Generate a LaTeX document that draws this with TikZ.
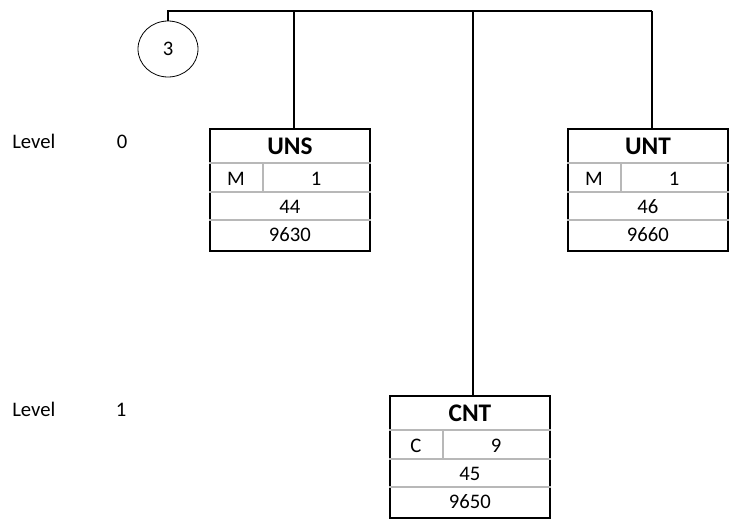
\documentclass[tikz,border=0pt]{standalone}
\usepackage{fontspec}
\setmainfont{Carlito}
\usetikzlibrary{calc,shapes.geometric}
\tikzset{
  outerbox/.style={draw=black, line width=1.4pt, minimum width=120pt, minimum height=91.5pt, inner sep=0pt, anchor=north west},
  innerline/.style={draw=black!28, line width=0.8pt},
  conn/.style={draw=black, line width=2pt},
  celltext/.style={inner sep=0pt, font=\fontsize{15.5}{18}\selectfont},
  titletext/.style={inner sep=0pt, font=\fontsize{19}{22}\selectfont\bfseries},
  leveltext/.style={inner sep=0pt, font=\fontsize{15.5}{18}\selectfont},
  circnode/.style={draw=black, line width=0.6pt, ellipse, minimum width=45pt, minimum height=42pt, inner sep=0pt, font=\fontsize{15.5}{18}\selectfont}
}
\newcommand{\segm}[8]{%
  \node[outerbox] (#1) at (#2,#3) {};
  \draw[innerline] ($(#1.north west)+(0,35)$) -- ($(#1.north east)+(0,35)$);
  \draw[innerline] ($(#1.north west)+(0,64)$) -- ($(#1.north east)+(0,64)$);
  \draw[innerline] ($(#1.north west)+(0,92)$) -- ($(#1.north east)+(0,92)$);
  \draw[innerline] ($(#1.north west)+(54,35)$) -- ($(#1.north west)+(54,64)$);
  \node[titletext] (#1-t) at ($(#1.north)+(0,18.5)$) {#4};
  \node[celltext] (#1-s) at ($(#1.north west)+(27,51)$) {#5};
  \node[celltext] (#1-r) at ($(#1.north west)+(107,51)$) {#6};
  \node[celltext] (#1-p) at ($(#1.north)+(0,79)$) {#7};
  \node[celltext] (#1-n) at ($(#1.north)+(0,106.5)$) {#8};
}
\begin{document}
\begin{tikzpicture}[x=0.75pt,y=-0.75pt]
\useasboundingbox (0,0) rectangle (731,518);
% level labels
\node[leveltext, anchor=base west] (lv0) at (12,148) {Level};
\node[leveltext, anchor=base] (lv0n) at (122,148) {0};
\node[leveltext, anchor=base west] (lv1) at (12,416) {Level};
\node[leveltext, anchor=base] (lv1n) at (121,416) {1};
% boxes
\segm{UNS}{209}{128}{UNS}{M}{1}{44}{9630}
\segm{UNT}{567}{128}{UNT}{M}{1}{46}{9660}
\segm{CNT}{389}{395}{CNT}{C}{9}{45}{9650}
% circle
\node[circnode] (circ) at (168,49) {3};
% bus
\coordinate (j0) at (168,11);
\coordinate (j1) at (294,11);
\coordinate (j2) at (473,11);
\coordinate (j3) at (652,11);
\draw[conn] (circ.north) -- (j0) -- (j3);
\draw[conn] (j1) -- (j1 |- UNS.north);
\draw[conn] (j2) -- (j2 |- CNT.north);
\draw[conn] (j3) -- (j3 |- UNT.north);
\end{tikzpicture}
\end{document}
